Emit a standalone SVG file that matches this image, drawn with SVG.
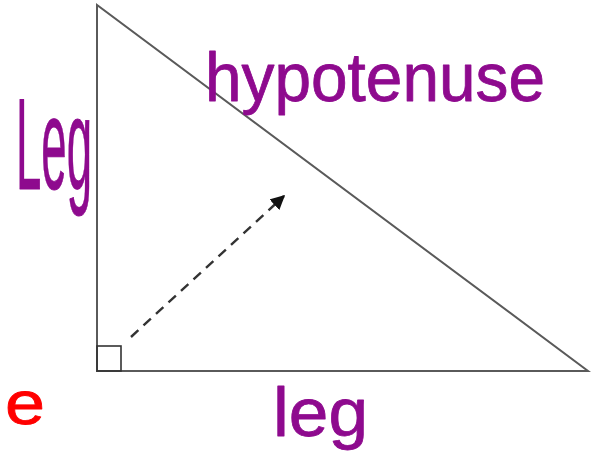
<svg xmlns="http://www.w3.org/2000/svg" width="593" height="463" viewBox="0 0 593 463">
  <style>
    .side { stroke: #5a5a5a; stroke-width: 2; fill: none; stroke-linecap: round; }
    .mark { stroke: #333; stroke-width: 1.6; fill: none; }
    .hand { font-family: "Liberation Sans", Arial, sans-serif; fill: #8e0a8e; stroke: #8e0a8e; stroke-width: 0.8; stroke-linejoin: round; }
    .red { fill: #ff0000; stroke: #ff0000; }
    .dash { stroke: #333; stroke-width: 2.4; stroke-dasharray: 10 7; fill: none; }
  </style>
  <defs>
    <marker id="arrowhead" viewBox="0 0 10 10" refX="9" refY="5" markerWidth="6" markerHeight="6" markerUnits="strokeWidth" orient="auto">
      <path d="M0,0 L10,5 L0,10 Z" fill="#111"/>
    </marker>
  </defs>
  <rect width="593" height="463" fill="#ffffff"/>
  <g id="triangle">
    <path class="side" d="M97,5 L97,371 L588,371 Z"/>
  </g>
  <g id="right-angle">
    <rect class="mark" x="97" y="346" width="24" height="25"/>
  </g>
  <g id="connectors">
    <line class="dash" x1="131" y1="337" x2="284" y2="196" marker-end="url(#arrowhead)"/>
  </g>
  <g id="label-hypotenuse">
    <text class="hand" x="205" y="101" font-size="68" textLength="340" lengthAdjust="spacingAndGlyphs">hypotenuse</text>
  </g>
  <g id="label-Leg">
    <text class="hand" x="16" y="189" font-size="130" textLength="76" lengthAdjust="spacingAndGlyphs">Leg</text>
  </g>
  <g id="label-leg">
    <text class="hand" x="273" y="436" font-size="68" textLength="95" lengthAdjust="spacingAndGlyphs">leg</text>
  </g>
  <g id="label-e">
    <text class="hand red" x="5" y="424" font-size="62" textLength="40" lengthAdjust="spacingAndGlyphs">e</text>
  </g>
</svg>
